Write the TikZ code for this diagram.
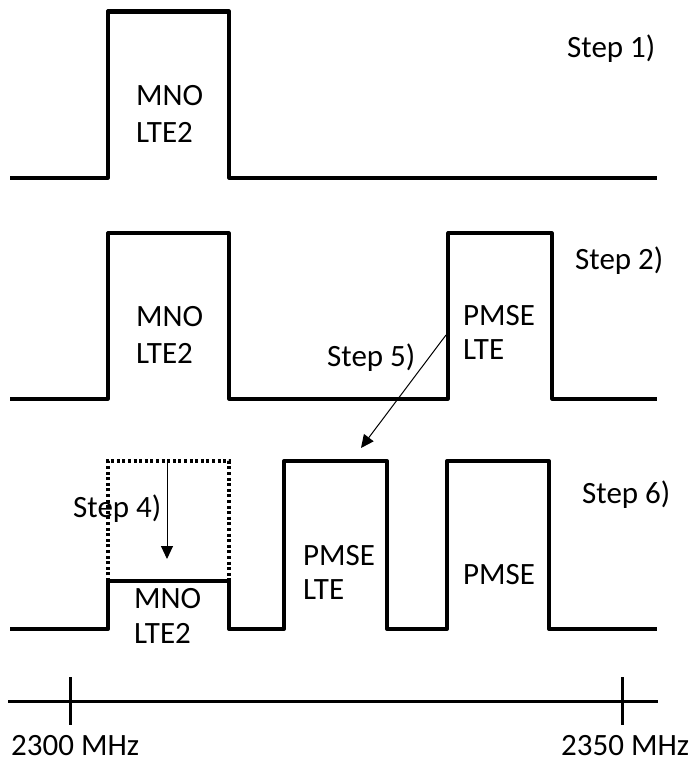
\documentclass[tikz,border=0pt]{standalone}
\usepackage{fontspec}
\setmainfont{Carlito}
\usetikzlibrary{arrows.meta}
\begin{document}
\begin{tikzpicture}[x=1pt,y=-1pt,
  lbl/.style={anchor=base west,inner sep=0pt,font=\fontsize{31}{36}\selectfont},
  sig/.style={line width=3.2pt,line join=round},
  sigb/.style={line width=4pt,line join=round},
  dotbox/.style={line width=3.2pt,dash pattern=on 3pt off 2.6pt},
  thinarrow/.style={line width=1pt,-{Triangle[length=13pt,width=12pt]}},
  axis/.style={line width=3pt}]
\useasboundingbox (0,0) rectangle (688,762);
% Row 1
\draw[sig] (10,178) -| (108,11) -| (229,178) -- (657,178);
\draw[line width=5pt] (108,12) -- (229,12);
\node[lbl] (mno1) at (136,106) {MNO};
\node[lbl] (lte1) at (136,143) {LTE2};
\node[lbl] (s1) at (567,58) {Step 1)};
% Row 2
\draw[sig] (10,399) -| (108,233) -| (229,399) -| (448,233) -| (552,399) -- (657,399);
\node[lbl] (mno2) at (136,326) {MNO};
\node[lbl] (lte2) at (136,363) {LTE2};
\node[lbl] (pm2) at (463,325) {PMSE};
\node[lbl] (pl2) at (463,359) {LTE};
\node[lbl] (s2) at (575,269) {Step 2)};
\node[lbl] (s5) at (327,366) {Step 5)};
% Row 3
\draw[sigb] (10,629) -| (108,581) -| (229,629) -| (284,461) -| (387,629) -| (447,461) -| (549,629) -- (657,629);
\draw[dotbox] (108,581) |- (229,461) -- (229,581);
\node[lbl] (mno3) at (134,608) {MNO};
\node[lbl] (lte3) at (134,643) {LTE2};
\node[lbl] (pm3) at (303,565) {PMSE};
\node[lbl] (pl3) at (303,599) {LTE};
\node[lbl] (pm4) at (463,584) {PMSE};
\node[lbl] (s4) at (73,517) {Step 4)};
\node[lbl] (s6) at (582,503) {Step 6)};
% Arrows
\coordinate (a4s) at (167,461);
\coordinate (a4e) at (167,559);
\draw[thinarrow] (a4s) -- (a4e);
\coordinate (a5s) at (446,335);
\coordinate (a5e) at (361,448);
\draw[thinarrow] (a5s) -- (a5e);
% Axis
\draw[axis] (8,701) -- (658,701);
\draw[axis] (70,677) -- (70,725);
\draw[axis] (622,677) -- (622,725);
\node[lbl] (f1) at (11,755) {2300 MHz};
\node[lbl] (f2) at (561,755) {2350 MHz};
\end{tikzpicture}
\end{document}
